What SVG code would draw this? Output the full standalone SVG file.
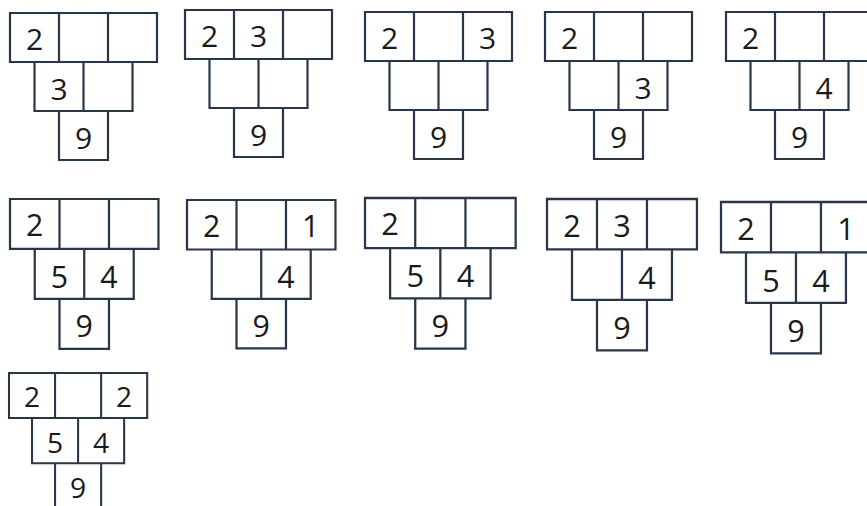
<svg xmlns="http://www.w3.org/2000/svg" xmlns:xlink="http://www.w3.org/1999/xlink" width="867" height="506" viewBox="0 0 867 506">
<style>
.c{fill:none;stroke:#283748;stroke-width:2.2}
.t{font-family:"Open Sans","DejaVu Sans",sans-serif;font-size:30px;fill:#1a1a1a;text-anchor:middle}
</style>
<defs>
<g id="pyr">
<path class="c" d="M0,0H147V49H0Z M49,0V49 M98,0V49 M24.5,49V98H122.5V49 M73.5,49V98 M49,98V147H98V98"/>
</g>
</defs>
<rect width="867" height="506" fill="#ffffff"/>
<g id="p1" transform="translate(10,13)">
<use xlink:href="#pyr"/>
<text class="t" x="24.5" y="36.5">2</text>
<text class="t" x="49" y="87">3</text>
<text class="t" x="73.5" y="135.5">9</text>
</g>
<g id="p2" transform="translate(185,10)">
<use xlink:href="#pyr"/>
<text class="t" x="24.5" y="36.5">2</text>
<text class="t" x="73.5" y="36.5">3</text>
<text class="t" x="73.5" y="135.5">9</text>
</g>
<g id="p3" transform="translate(365,12)">
<use xlink:href="#pyr"/>
<text class="t" x="24.5" y="36.5">2</text>
<text class="t" x="122.5" y="36.5">3</text>
<text class="t" x="73.5" y="135.5">9</text>
</g>
<g id="p4" transform="translate(545,12)">
<use xlink:href="#pyr"/>
<text class="t" x="24.5" y="36.5">2</text>
<text class="t" x="98" y="87">3</text>
<text class="t" x="73.5" y="135.5">9</text>
</g>
<g id="p5" transform="translate(726,12)">
<use xlink:href="#pyr"/>
<text class="t" x="24.5" y="36.5">2</text>
<text class="t" x="98" y="87">4</text>
<text class="t" x="73.5" y="135.5">9</text>
</g>
<g id="p6" transform="translate(10,199) scale(1.01,1.02)">
<use xlink:href="#pyr"/>
<text class="t" x="24.5" y="36.5">2</text>
<text class="t" x="49" y="87">5</text>
<text class="t" x="98" y="87">4</text>
<text class="t" x="73.5" y="135.5">9</text>
</g>
<g id="p7" transform="translate(187,200) scale(1.01,1.01)">
<use xlink:href="#pyr"/>
<text class="t" x="24.5" y="36.5">2</text>
<text class="t" x="122.5" y="36.5">1</text>
<text class="t" x="98" y="87">4</text>
<text class="t" x="73.5" y="135.5">9</text>
</g>
<g id="p8" transform="translate(365,198) scale(1.025,1.025)">
<use xlink:href="#pyr"/>
<text class="t" x="24.5" y="36.5">2</text>
<text class="t" x="49" y="87">5</text>
<text class="t" x="98" y="87">4</text>
<text class="t" x="73.5" y="135.5">9</text>
</g>
<g id="p9" transform="translate(547,199) scale(1.02,1.03)">
<use xlink:href="#pyr"/>
<text class="t" x="24.5" y="36.5">2</text>
<text class="t" x="73.5" y="36.5">3</text>
<text class="t" x="98" y="87">4</text>
<text class="t" x="73.5" y="135.5">9</text>
</g>
<g id="p10" transform="translate(721,202) scale(1.02,1.03)">
<use xlink:href="#pyr"/>
<text class="t" x="24.5" y="36.5">2</text>
<text class="t" x="122.5" y="36.5">1</text>
<text class="t" x="49" y="87">5</text>
<text class="t" x="98" y="87">4</text>
<text class="t" x="73.5" y="135.5">9</text>
</g>
<g id="p11" transform="translate(9,373) scale(0.94,0.92)">
<use xlink:href="#pyr"/>
<text class="t" x="24.5" y="36.5">2</text>
<text class="t" x="122.5" y="36.5">2</text>
<text class="t" x="49" y="87">5</text>
<text class="t" x="98" y="87">4</text>
<text class="t" x="73.5" y="135.5">9</text>
</g>
<g id="connectors"></g>
</svg>
